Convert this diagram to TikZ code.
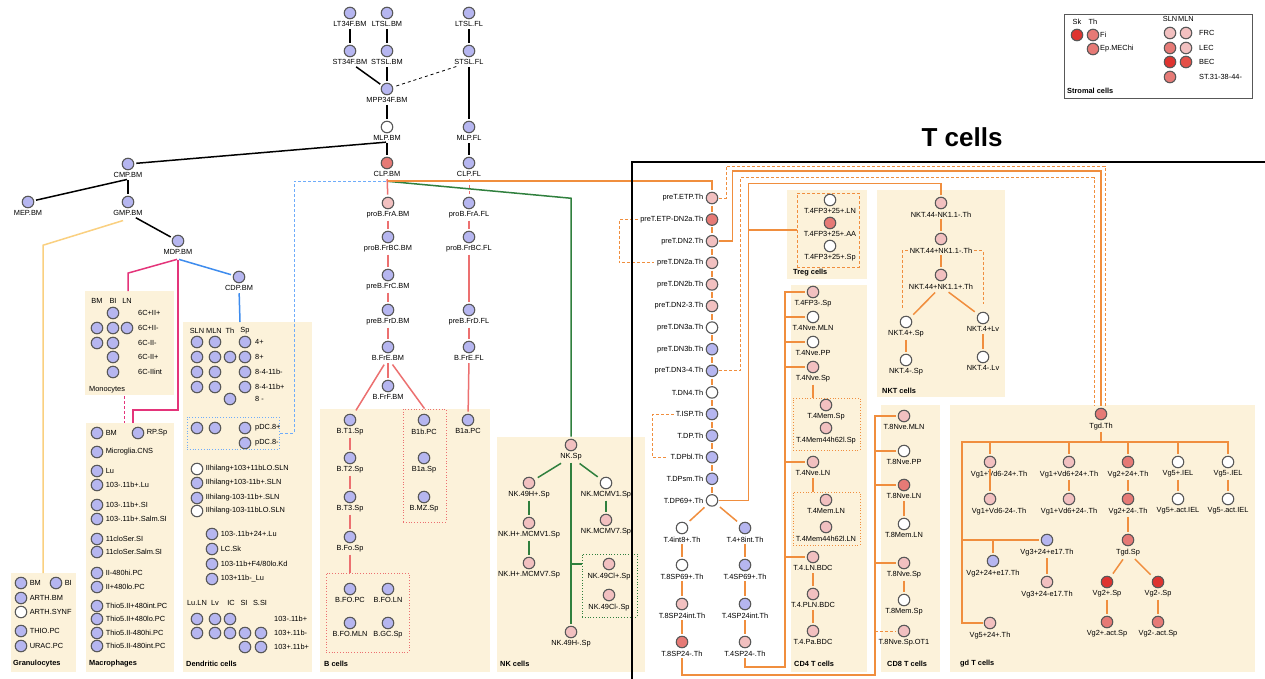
\documentclass[tikz,border=0pt]{standalone}
\usepackage{fontspec}
\setmainfont{Liberation Sans}
\definecolor{cBlue}{RGB}{182,182,240}
\definecolor{cPink}{RGB}{242,192,192}
\definecolor{cRed}{RGB}{230,122,118}
\definecolor{cDeep}{RGB}{222,52,48}
\definecolor{cBec}{RGB}{228,80,72}
\definecolor{RimClr}{RGB}{88,88,88}
\definecolor{BoxClr}{RGB}{252,242,218}
\definecolor{OrClr}{RGB}{240,142,62}
\definecolor{MgClr}{RGB}{228,52,122}
\definecolor{BlClr}{RGB}{62,140,238}
\definecolor{BlLt}{RGB}{110,172,250}
\definecolor{BClr}{RGB}{236,112,112}
\definecolor{GrClr}{RGB}{48,128,62}
\definecolor{YeClr}{RGB}{250,208,128}
\newcommand{\cellfont}{\fontsize{7.4}{8}\selectfont}
\newcommand{\cellnode}[6]{\node[cell,fill=#4,label={[name=#1-t]#5:#6}] (#1) at (#2,#3) {};}

\begin{document}
\begin{tikzpicture}[x=1pt,y=-1pt,
  cell/.style={circle,draw=RimClr,line width=1.1pt,minimum size=11.5pt,inner sep=0pt},
  every label/.style={font=\cellfont,inner sep=1pt},
  label distance=1.3pt,
  txt/.style={font=\cellfont,inner sep=1pt},
  sect/.style={font=\cellfont\bfseries,anchor=west,inner sep=0pt},
  conn/.style={line width=1.5pt,shorten <=1pt,shorten >=2pt},
  blk/.style={conn,black},
  orl/.style={conn,OrClr},
  ord/.style={conn,OrClr,line width=0.9pt,dash pattern=on 3pt off 2pt},
  tick/.style={orl,shorten <=0pt},
  bcl/.style={conn,BClr},
  grl/.style={conn,GrClr},
  mgl/.style={conn,MgClr},
  dotbox/.style={draw=#1,dotted,line width=0.8pt,inner sep=0pt},
  dashbox/.style={draw=#1,dash pattern=on 3pt off 2pt,line width=0.8pt,inner sep=0pt}]
\fill[white] (0,0) rectangle (1265,678);
\useasboundingbox (0,0) rectangle (1265,678);

% panels
\foreach \a/\b/\c/\d in {11/573/76/672, 85/291/174/395, 86/423/174/672, 183/322/312/672,
  320/409/490/672, 497/437/645/672, 787/190/867/279, 791/285/867/672,
  877/190/1005/397, 881/405/940/672, 950/405/1255/672}
  \fill[BoxClr] (\a,\b) rectangle (\c,\d);

\foreach \tx/\x/\y [count=\i] in {Granulocytes/13/664, Macrophages/89/664, Dendritic cells/186/664,
  B cells/324/664, NK cells/500/664, CD4 T cells/794/664, CD8 T cells/887/664,
  gd T cells/960/664, NKT cells/882/391, Treg cells/793/273}
  \node[sect] (sec\i) at (\x,\y) {\tx};
\node[txt,anchor=west] (mono) at (88,390) {Monocytes};
\node[font=\fontsize{26}{30}\selectfont\bfseries,inner sep=0pt] (ttl) at (962,137) {T cells};

% progenitors
\foreach \n/\x/\y/\cl/\tx in {ltfbm/350/13/cBlue/LT34F.BM, ltsbm/387/13/cBlue/LTSL.BM,
  ltsfl/469/13/cBlue/LTSL.FL, stfbm/350/51/cBlue/ST34F.BM, stsbm/387/51/cBlue/STSL.BM,
  stsfl/469/51/cBlue/STSL.FL, mpp/387/89/cBlue/MPP34F.BM, mlpbm/387/127/white/MLP.BM,
  mlpfl/469/127/cBlue/MLP.FL, clpbm/387/163/cRed/CLP.BM, clpfl/469/163/cBlue/CLP.FL,
  cmp/128/164/cBlue/CMP.BM, mep/28/202/cBlue/MEP.BM, gmp/128/202/cBlue/GMP.BM,
  mdp/178/241/cBlue/MDP.BM, cdp/239/277/cBlue/CDP.BM}
  {\cellnode{\n}{\x}{\y}{\cl}{below}{\tx}}

% granulocytes, monocytes, macrophages
\foreach \n/\x/\y/\cl/\tx in {gra/21/583/cBlue/BM, grb/56/583/cBlue/BI, grc/21/598/cBlue/ARTH.BM,
  grd/21/612/white/ARTH.SYNF, gre/21/631/cBlue/THIO.PC, grf/21/646/cBlue/URAC.PC}
  {\cellnode{\n}{\x}{\y}{\cl}{right}{\tx}}
\foreach \tx/\x [count=\i] in {BM/97,BI/113,LN/127} \node[txt] (mh\i) at (\x,301) {\tx};
\foreach \x/\y [count=\i] in {113/313, 97/328,113/328,127/328, 97/343,113/343, 113/357, 113/372}
  \node[cell,fill=cBlue] (mo\i) at (\x,\y) {};
\foreach \tx/\y [count=\i] in {6C+II+/313,6C+II-/328,6C-II-/343,6C-II+/357,6C-IIint/372}
  \node[txt,anchor=west] (ml\i) at (137,\y) {\tx};
\foreach \n/\y/\tx in {mca/433/BM, mcb/452/Microglia.CNS, mcc/471/Lu, mcd/485/103-.11b+.Lu,
  mce/505/103-.11b+.SI, mcf/519/103-.11b+.Salm.SI, mcg/539/11cloSer.SI, mch/552/11cloSer.Salm.SI,
  mci/573/II-480hi.PC, mcj/587/II+480lo.PC, mck/606/Thio5.II+480int.PC, mcl/619/Thio5.II+480lo.PC,
  mcm/633/Thio5.II-480hi.PC, mcn/646/Thio5.II-480int.PC}
  {\cellnode{\n}{97}{\y}{cBlue}{right}{\tx}}
\cellnode{mcrp}{138}{433}{cBlue}{right}{RP.Sp}

% dendritic cells
\foreach \tx/\x [count=\i] in {SLN/197,MLN/214,Th/230,Sp/245} \node[txt] (dh\i) at (\x,331) {\tx};
\foreach \x/\y [count=\i] in {197/342,215/342,245/342, 197/357,215/357,230/357,245/357,
  197/372,215/372,245/372, 197/387,215/387,245/387, 230/399, 197/428,215/428,245/428, 245/443}
  \node[cell,fill=cBlue] (dc\i) at (\x,\y) {};
\foreach \tx/\y [count=\i] in {4+/342,8+/357,8-4-11b-/372,8-4-11b+/387,8 -/399,pDC.8+/428,pDC.8-/443}
  \node[txt,anchor=west] (dr\i) at (254,\y) {\tx};
\foreach \n/\y/\cl/\tx in {dla/469/white/IIhilang+103+11bLO.SLN, dlb/483/cBlue/IIhilang+103-11b+.SLN,
  dlc/498/cBlue/IIhilang-103-11b+.SLN, dld/511/white/IIhilang-103-11bLO.SLN}
  {\cellnode{\n}{197}{\y}{\cl}{right}{\tx}}
\foreach \n/\y/\tx in {dle/534/103-.11b+24+.Lu, dlf/549/LC.Sk, dlg/564/{103-11b+F4/80lo.Kd}, dlh/579/103+11b-\_Lu}
  {\cellnode{\n}{212}{\y}{cBlue}{right}{\tx}}
\foreach \tx/\x [count=\i] in {Lu.LN/197,Lv/215,IC/231,SI/244,S.SI/260} \node[txt] (dg\i) at (\x,603) {\tx};
\foreach \x/\y [count=\i] in {197/619,215/619,230/619, 197/633,215/633,230/633,245/633,261/633, 245/647,261/647}
  \node[cell,fill=cBlue] (dm\i) at (\x,\y) {};
\foreach \tx/\y [count=\i] in {103-.11b+/619,103+.11b-/633,103+.11b+/647}
  \node[txt,anchor=west] (dn\i) at (273,\y) {\tx};

% B cells
\foreach \n/\x/\y/\cl/\tx in {proba/388/203/cPink/proB.FrA.BM, probbc/388/237/cBlue/proB.FrBC.BM,
  prebc/388/275/cBlue/preB.FrC.BM, prebd/388/310/cBlue/preB.FrD.BM, bfre/388/347/cBlue/B.FrE.BM,
  bfrf/388/386/cBlue/B.FrF.BM, probafl/469/203/cBlue/proB.FrA.FL, probbcfl/469/237/cBlue/proB.FrBC.FL,
  prebdfl/469/310/cBlue/preB.FrD.FL, bfrefl/469/347/cBlue/B.FrE.FL, bapc/468/420/cBlue/B1a.PC,
  bta/350/420/cBlue/B.T1.Sp, btb/350/458/cBlue/B.T2.Sp, btc/350/497/cBlue/B.T3.Sp,
  bfo/350/537/cBlue/B.Fo.Sp, bfopc/350/589/cBlue/B.FO.PC, bfoln/388/589/cBlue/B.FO.LN,
  bfomln/350/623/cBlue/B.FO.MLN, bgc/388/623/cBlue/B.GC.Sp, bbpc/424/420/cBlue/B1b.PC,
  basp/424/458/cBlue/B1a.Sp, bmz/424/497/cBlue/B.MZ.Sp}
  {\cellnode{\n}{\x}{\y}{\cl}{below}{\tx}}

% NK cells
\foreach \n/\x/\y/\cl/\tx in {nksp/571/445/cPink/NK.Sp, nkhp/529/483/cPink/NK.49H+.Sp,
  nkha/529/523/cPink/NK.H+.MCMV1.Sp, nkhb/529/563/cPink/NK.H+.MCMV7.Sp,
  nkma/606/483/white/NK.MCMV1.Sp, nkmb/606/520/cPink/NK.MCMV7.Sp,
  nkcp/609/564/cPink/NK.49Cl+.Sp, nkcm/609/595/cPink/NK.49Cl-.Sp, nkhm/571/632/cPink/NK.49H-.Sp}
  {\cellnode{\n}{\x}{\y}{\cl}{below}{\tx}}

% thymus
\foreach \n/\cl/\tx [count=\i from 0] in {etp/cPink/preT.ETP.Th, etpd/cRed/preT.ETP-DN2a.Th,
  dnb/cPink/preT.DN2.Th, dnba/cPink/preT.DN2a.Th, dnbb/cPink/preT.DN2b.Th,
  dnbc/cPink/preT.DN2-3.Th, dnca/white/preT.DN3a.Th, dncb/cBlue/preT.DN3b.Th,
  dncd/cBlue/preT.DN3-4.Th, dnd/white/T.DN4.Th, isp/cBlue/T.ISP.Th, dp/cBlue/T.DP.Th,
  dpbl/cBlue/T.DPbl.Th, dpsm/cBlue/T.DPsm.Th, dpsn/white/T.DP69+.Th}
  {\cellnode{\n}{712}{198+21.6*\i}{\cl}{left}{\tx}}
\foreach \n/\x/\y/\cl/\tx in {tea/682/528/white/T.4int8+.Th, teb/682/565/white/T.8SP69+.Th,
  tec/682/604/cPink/T.8SP24int.Th, ted/682/642/cRed/T.8SP24-.Th, tfa/745/528/cBlue/T.4+8int.Th,
  tfb/745/565/cBlue/T.4SP69+.Th, tfc/745/604/cBlue/T.4SP24int.Th, tfd/745/642/cPink/T.4SP24-.Th}
  {\cellnode{\n}{\x}{\y}{\cl}{below}{\tx}}

% Treg, CD4, CD8
\foreach \n/\x/\y/\cl/\tx in {rga/830/200/white/T.4FP3+25+.LN, rgb/830/223/cRed/T.4FP3+25+.AA,
  rgc/830/246/white/T.4FP3+25+.Sp,
  cfa/813/292/cPink/T.4FP3-.Sp, cfb/813/317/white/T.4Nve.MLN, cfc/813/342/white/T.4Nve.PP,
  cfd/813/367/cPink/T.4Nve.Sp, cfe/826/405/cPink/T.4Mem.Sp, cff/826/428/cPink/T.4Mem44h62l.Sp,
  cfg/813/462/cPink/T.4Nve.LN, cfh/826/500/cPink/T.4Mem.LN, cfi/826/527/cPink/T.4Mem44h62l.LN,
  cfj/813/557/cPink/T.4.LN.BDC, cfk/813/594/cPink/T.4.PLN.BDC, cfl/813/631/cPink/T.4.Pa.BDC,
  cea/904/416/cPink/T.8Nve.MLN, ceb/904/451/white/T.8Nve.PP, cec/904/485/cRed/T.8Nve.LN,
  ced/904/524/white/T.8Mem.LN, cee/904/563/cPink/T.8Nve.Sp, cef/904/600/white/T.8Mem.Sp,
  ceg/904/631/cPink/T.8Nve.Sp.OT1}
  {\cellnode{\n}{\x}{\y}{\cl}{below}{\tx}}

% NKT, gd
\foreach \n/\x/\y/\cl/\tx in {nka/941/203/cPink/NKT.44-NK1.1-.Th, nkb/941/239/cPink/NKT.44+NK1.1-.Th,
  nkc/941/275/cPink/NKT.44+NK1.1+.Th, nkd/906/322/white/NKT.4+.Sp, nke/906/360/white/NKT.4-.Sp,
  nkf/983/318/white/NKT.4+Lv, nkg/983/357/white/NKT.4-.Lv,
  tgd/1101/414/cRed/Tgd.Th,
  gap/1069/462/cPink/Vg1+Vd6+24+.Th, gapm/1069/499/cPink/Vg1+Vd6+24-.Th,
  gtp/1128/462/cRed/Vg2+24+.Th, gtm/1128/499/cRed/Vg2+24-.Th, tgdsp/1128/540/cRed/Tgd.Sp,
  gtsp/1107/582/cDeep/Vg2+.Sp, gtmsp/1158/582/cDeep/Vg2-.Sp, gtact/1107/622/cRed/Vg2+.act.Sp,
  gtmact/1158/622/cRed/Vg2-.act.Sp, gfp/1178/462/white/Vg5+.IEL, gfpa/1178/499/white/Vg5+.act.IEL,
  gfm/1228/462/white/Vg5-.IEL, gfma/1228/499/white/Vg5-.act.IEL, gtwe/993/561/cBlue/Vg2+24+e17.Th,
  gtha/1047/540/cBlue/Vg3+24+e17.Th, gthm/1047/582/cPink/Vg3+24-e17.Th, gfe/990/623/cPink/Vg5+24+.Th}
  {\cellnode{\n}{\x}{\y}{\cl}{below}{\tx}}
\node[cell,fill=cPink,label={[name=gam-t,xshift=9pt]below:Vg1+Vd6-24+.Th}] (gam) at (990,462) {};
\node[cell,fill=cPink,label={[name=gamm-t,xshift=9pt]below:Vg1+Vd6-24-.Th}] (gamm) at (990,499) {};

% groups
\node[dotbox=BlLt,minimum width=92pt,minimum height=32pt] (pdcbox) at (233,433) {};
\node[dotbox=BClr,minimum width=43pt,minimum height=113pt] (bbox) at (424.5,465.5) {};
\node[dotbox=BClr,minimum width=83pt,minimum height=79pt] (fobox) at (367.5,612.5) {};
\node[dotbox=GrClr,minimum width=55pt,minimum height=63pt] (nkbox) at (609.5,585.5) {};
\node[dashbox=OrClr,minimum width=62pt,minimum height=74pt] (tregbox) at (828,230) {};
\node[dotbox=OrClr,minimum width=67pt,minimum height=52pt] (mema) at (826.5,424) {};
\node[dotbox=OrClr,minimum width=67pt,minimum height=53pt] (memb) at (826.5,518.5) {};

\coordinate (granTop) at (43,573);
\coordinate (monoTop) at (128,291);
\coordinate (monoBot) at (124,395);
\coordinate (macTop) at (133,423);
\coordinate (dcTop) at (240,322);
\coordinate (cdfb) at (785,667);
\coordinate (cdeb) at (875,675);
\coordinate (gdbar) at (962,442);

% stem and myeloid links
\foreach \p/\q in {ltfbm/stfbm, ltsbm/stsbm, ltsfl/stsfl, stfbm/mpp, stsbm/mpp, stsfl/mlpfl,
  mpp/mlpbm, mlpbm/clpbm, mlpfl/clpfl, cmp/gmp, gmp/mdp}
  \draw[blk] (\p-t) -- (\q);
\draw[blk] (mlpbm-t.south) -- (cmp);
\draw[blk] (cmp-t.south) -- (mep);
\draw[blk,line width=0.8pt,dashed] (stsfl-t) -- (mpp);
\draw[conn,YeClr,shorten >=0pt] ([shift={(-4pt,-3pt)}]gmp-t.south) -- ++(-81,25) -- (granTop);
\draw[mgl,shorten >=0pt] ([yshift=-3pt]mdp-t.south) -- ++(-50,14) -- (monoTop);
\draw[mgl,shorten >=0pt] ([yshift=-3pt]mdp-t.south) -- ++(0,151) -| (macTop);
\draw[mgl,line width=0.9pt,dash pattern=on 3pt off 2pt,shorten >=0pt] (monoBot) -- (monoBot |- macTop);
\draw[conn,BlClr] ([yshift=-3pt]mdp-t.south) -- (cdp);
\draw[conn,BlClr,shorten >=0pt] (cdp-t) -- (dcTop);
\draw[conn,BlLt,line width=0.9pt,dash pattern=on 3pt off 2pt,shorten >=0pt]
  ([yshift=-3pt]clpbm-t.south) -- ++(-93,0) |- (pdcbox.east);

% B links
\foreach \p/\q in {clpbm/proba, proba/probbc, probbc/prebc, prebc/prebd, prebd/bfre, bfre/bfrf,
  probafl/probbcfl, probbcfl/prebdfl, prebdfl/bfrefl, bfrefl/bapc, bta/btb, btb/btc, btc/bfo}
  \draw[bcl] (\p-t) -- (\q);
\draw[bcl,dashed,line width=1pt] (clpfl-t) -- (probafl);
\draw[bcl,shorten <=3pt,shorten >=5pt] (bfre-t) -- (bta);
\draw[bcl,shorten <=3pt,shorten >=0pt] (bfre-t) -- (bbox.north);
\draw[bcl,shorten >=0pt] (bfo-t) -- (bfo-t |- fobox.north);

% NK links
\draw[grl] ([yshift=-3pt]clpbm-t.south) -- ++(184,17) -- (nksp);
\draw[grl,shorten <=3pt,shorten >=4pt] (nksp-t) -- (nkhp);
\draw[grl,shorten <=3pt,shorten >=4pt] (nksp-t) -- (nkma);
\foreach \p/\q in {nkhp/nkha, nkha/nkhb, nkma/nkmb, nksp/nkhm} \draw[grl] (\p-t) -- (\q);
\draw[grl,shorten <=0pt,shorten >=0pt] (nkhm |- nkcp) -- (nkbox.west |- nkcp);

% T links
\draw[orl] ([yshift=-3pt]clpbm-t.south) -| (etp);
\foreach \p/\q in {etp/etpd, etpd/dnb, dnb/dnba, dnba/dnbb, dnbb/dnbc, dnbc/dnca, dnca/dncb,
  dncb/dncd, dncd/dnd, dnd/isp, isp/dp, dp/dpbl, dpbl/dpsm, dpsm/dpsn}
  \draw[orl,shorten <=1.5pt,shorten >=1.5pt] (\p) -- (\q);
\draw[ord] (etpd-t.west) -- ++(-20,0) |- (dnba-t.west);
\draw[ord] (isp-t.west) -- ++(-22,0) |- (dpbl-t.west);
\draw[ord] (etp.east) -- ++(8,0) -- ++(0,-32) -| ([xshift=4pt]tgd.north);
\draw[orl] (dnb.east) -- ++(14,0) -- ++(0,-70) -| (tgd.north);
\draw[ord] (dncd.east) -- ++(22,0) -- ++(0,-193) -| ([xshift=-7pt]tgd.north);
\draw[orl] (dpsn.east) -- ++(30,0) -- ++(0,-317) -| (nka);
\draw[orl,shorten <=0pt,shorten >=0pt] (tregbox.west) -- ++(-49,0);
\draw[orl,shorten <=4pt,shorten >=4pt] (dpsn) -- (tea);
\draw[orl,shorten <=4pt,shorten >=4pt] (dpsn) -- (tfa);
\foreach \p/\q in {tea/teb, teb/tec, tec/ted, tfa/tfb, tfb/tfc, tfc/tfd, cfj/cfk, cfk/cfl,
  cec/ced, cee/cef, nka/nkb, nkb/nkc, nkd/nke, nkf/nkg, gap/gapm, gtp/gtm, gtm/tgdsp,
  gtsp/gtact, gtmsp/gtmact, gfp/gfpa, gfm/gfma, gtha/gthm}
  \draw[orl] (\p-t) -- (\q);
\draw[orl] (gam) -- (gamm);
\draw[orl,shorten >=0pt] (cfd-t) -- (cfd-t |- mema.north);
\draw[orl,shorten >=0pt] (cfg-t) -- (cfg-t |- memb.north);
\draw[orl,shorten <=3pt,shorten >=4pt] (nkc-t) -- (nkd);
\draw[orl,shorten <=3pt,shorten >=4pt] (nkc-t) -- (nkf);
\draw[orl,shorten <=3pt,shorten >=4pt] (tgdsp-t) -- (gtsp);
\draw[orl,shorten <=3pt,shorten >=4pt] (tgdsp-t) -- (gtmsp);
\draw[ord,shorten >=8pt] (nkb-t.west) -| ([xshift=-4pt]nkd.north);
\draw[ord,shorten >=8pt] (nkb-t.east) -| (nkf.north);
% brackets
\draw[orl] (tfd-t.south) |- (cdfb) |- (cfa);
\foreach \n in {cfb,cfc,cfd,cfg,cfj} \draw[tick] (cdfb |- \n) -- (\n);
\draw[orl] (ted-t.south) |- (cdeb) |- (cea);
\foreach \n in {ceb,cec,cee} \draw[tick] (cdeb |- \n) -- (\n);
\draw[ord,shorten <=0pt] (cdeb |- ceg) -- (ceg);
\draw[orl,shorten >=0pt] (tgd-t) -- (tgd-t |- gdbar);
\draw[orl] (gfe) -| (gdbar) -- (gdbar -| gfm) -- (gfm);
\foreach \n in {gam,gap,gtp,gfp} \draw[tick] (gdbar -| \n) -- (\n);
\draw[tick] (gdbar |- gtha) -- (gtha);
\draw[tick] (gtwe |- gtha) -- (gtwe);

% T cell frame
\draw[line width=2.6pt] (632,682) -- (632,162) -- (1268,162);

% stromal legend
\draw[RimClr,line width=0.9pt,fill=white] (1064,14) rectangle (1252,98);
\foreach \tx/\x/\y [count=\i] in {Sk/1077/22, Th/1093/22, SLN/1170/19, MLN/1186/19}
  \node[txt] (lh\i) at (\x,\y) {\tx};
\foreach \n/\x/\y/\cl in {sfa/1077/35/cDeep, sfb/1093/35/cRed, sfc/1093/49/cRed,
  sfd/1170/33/cPink, sfe/1186/33/cPink, sff/1170/48/cRed, sfg/1186/48/cPink,
  sfh/1170/62/cDeep, sfi/1186/62/cBec, sfj/1170/77/cRed}
  \node[cell,fill=\cl] (\n) at (\x,\y) {};
\foreach \tx/\x/\y [count=\i] in {Fi/1099/35, Ep.MEChi/1099/49, FRC/1198/33, LEC/1198/48,
  BEC/1198/62, ST.31-38-44-/1198/77}
  \node[txt,anchor=west] (lt\i) at (\x,\y) {\tx};
\node[sect] (lstr) at (1067,91) {Stromal cells};
\end{tikzpicture}
\end{document}
